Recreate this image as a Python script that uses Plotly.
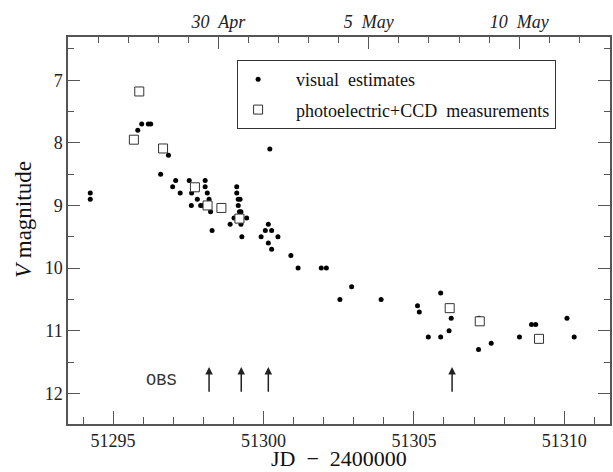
import plotly.graph_objects as go

# Visual estimates (JD-2400000, V mag)
vis_jd = [51294.24, 51294.24, 51295.82, 51295.95, 51296.17, 51296.25, 51296.58, 51296.84,
          51296.98, 51297.08, 51297.23, 51297.53, 51297.61, 51297.60, 51297.80, 51297.91,
          51298.00, 51298.06, 51298.06, 51298.13, 51298.19, 51298.24, 51298.29,
          51299.11, 51299.11, 51299.16, 51299.22, 51299.16, 51299.20, 51299.25, 51299.02,
          51299.44, 51298.89, 51299.25, 51299.28,
          51300.21, 51300.16, 51300.06, 51300.27, 51299.92, 51300.48, 51300.16, 51300.27,
          51300.91, 51301.15, 51301.92, 51302.09, 51302.93, 51302.54, 51303.91,
          51305.12, 51305.18, 51305.89, 51306.24, 51306.17, 51305.48, 51305.89,
          51307.15, 51307.57, 51307.16, 51308.51, 51308.91, 51309.05, 51310.09, 51310.33]
vis_mag = [8.80, 8.90, 7.80, 7.70, 7.70, 7.70, 8.50, 8.20,
           8.70, 8.60, 8.80, 8.60, 8.80, 9.00, 8.90, 9.00,
           9.00, 8.60, 8.70, 8.80, 8.90, 9.10, 9.40,
           8.70, 8.80, 8.90, 8.90, 9.00, 9.10, 9.10, 9.20,
           9.20, 9.30, 9.30, 9.50,
           8.10, 9.30, 9.40, 9.40, 9.50, 9.50, 9.60, 9.70,
           9.80, 10.00, 10.00, 10.00, 10.30, 10.50, 10.50,
           10.60, 10.70, 10.40, 10.80, 11.00, 11.10, 11.10,
           11.30, 11.20, 10.80, 11.10, 10.90, 10.90, 10.80, 11.10]

# Photoelectric + CCD measurements
ccd_jd = [51295.87, 51295.69, 51296.66, 51297.72, 51298.14, 51298.60, 51299.20,
          51306.19, 51307.19, 51309.16]
ccd_mag = [7.18, 7.95, 8.09, 8.71, 9.00, 9.04, 9.21, 10.64, 10.85, 11.13]

# Observation epochs (arrows)
obs_jd = [51298.19, 51299.26, 51300.16, 51306.27]

# Top axis dates
date_ticks = [51298.5, 51303.5, 51308.5]
date_labels = ["30\u00a0 Apr", "5\u00a0 May", "10\u00a0 May"]

x_range = [51293.5, 51311.52]
y_range = [12.49, 6.31]

FONT = "Liberation Serif"
AX = "#555555"
PAD = "\u00a0\u00a0\u00a0\u00a0"

fig = go.Figure()
fig.add_trace(go.Scatter(x=vis_jd, y=vis_mag, mode="markers",
                         name=PAD + "visual\u00a0 estimates", legendgroup="a",
                         marker=dict(symbol="circle", size=5, color="black")))
fig.add_trace(go.Scatter(x=ccd_jd, y=ccd_mag, mode="markers",
                         name=PAD + "photoelectric+CCD\u00a0 measurements", legendgroup="b",
                         marker=dict(symbol="square", size=9, color="white",
                                     line=dict(color="#333333", width=1))))
fig.add_trace(go.Scatter(x=[], y=[], xaxis="x2", showlegend=False))

for jd in obs_jd:
    fig.add_annotation(x=jd, y=11.58, ax=jd, ay=12.0, axref="x", ayref="y",
                       xref="x", yref="y", text="", showarrow=True,
                       arrowhead=2, arrowsize=1, arrowwidth=1.5, arrowcolor="#222222")

fig.add_annotation(x=51296.6, y=11.8, xref="x", yref="y", text="OBS", showarrow=False,
                   font=dict(family="Liberation Mono", size=17, color="#333333"))

fig.add_annotation(xref="paper", yref="paper", x=0.5, y=-0.088, text="JD\u00a0 \u2212\u00a0 2400000",
                   showarrow=False, yanchor="middle",
                   font=dict(family=FONT, size=22, color="#111111"))
fig.add_annotation(xref="paper", yref="paper", x=-0.083, y=0.527, text="<i>V</i> magnitude",
                   showarrow=False, textangle=-90, xanchor="center", yanchor="middle",
                   font=dict(family=FONT, size=23, color="#111111"))

fig.update_layout(
    width=613, height=472,
    margin=dict(l=68, r=1, t=37, b=48),
    paper_bgcolor="white", plot_bgcolor="white",
    font=dict(family=FONT, size=18, color="#222222"),
    showlegend=True,
    legend=dict(x=0.312, y=0.9406, xanchor="left", yanchor="top",
                bordercolor="#333333", borderwidth=1, bgcolor="white",
                font=dict(family=FONT, size=18, color="#111111"),
                traceorder="grouped", tracegroupgap=4, itemwidth=30),
    xaxis=dict(range=x_range, showgrid=False, zeroline=False,
               showline=True, linecolor=AX, linewidth=1.5, mirror=False,
               ticks="inside", tick0=51295, dtick=5, ticklen=13, tickwidth=1, tickcolor=AX,
               tickformat="d",
               minor=dict(ticks="inside", tick0=51295, dtick=1, ticklen=7, tickwidth=1, tickcolor=AX),
               tickfont=dict(family=FONT, size=18, color="#222222")),
    xaxis2=dict(range=x_range, overlaying="x", side="top", anchor="y",
                showgrid=False, zeroline=False, showline=True, linecolor=AX, linewidth=1.5,
                tickmode="array", tickvals=date_ticks, ticktext=date_labels,
                ticks="inside", ticklen=12, tickwidth=1, tickcolor=AX,
                minor=dict(ticks="inside", tickmode="linear", tick0=51294.5, dtick=1, ticklen=6,
                           tickwidth=1, tickcolor=AX),
                tickfont=dict(family=FONT, size=18, color="#222222", style="italic")),
    yaxis=dict(range=y_range, showgrid=False, zeroline=False,
               showline=True, linecolor=AX, linewidth=1.5, mirror="ticks",
               ticks="inside", tick0=7, dtick=1, ticklen=12, tickwidth=1, tickcolor=AX,
               minor=dict(ticks="inside", tick0=6.5, dtick=0.5, ticklen=6, tickwidth=1, tickcolor=AX),
               tickfont=dict(family=FONT, size=18, color="#222222")),
)

fig.write_html("out.html")
